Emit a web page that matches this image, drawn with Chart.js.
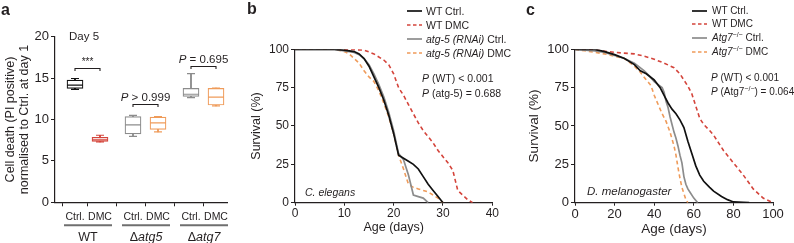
<!DOCTYPE html>
<html><head><meta charset="utf-8">
<script src="https://cdn.jsdelivr.net/npm/chart.js@4.4.0/dist/chart.umd.min.js"></script>
<style>
html,body{margin:0;padding:0;background:#fff;}
body{width:794px;height:243px;position:relative;overflow:hidden;font-family:"Liberation Sans",Arial,sans-serif;color:#231f20;}
canvas{position:absolute;top:0;}
.t{position:absolute;white-space:nowrap;font-size:10.5px;line-height:14px;}
.tc{font-size:10px;}
.lab{position:absolute;font-weight:bold;font-size:16px;line-height:16px;}
.sup{font-size:7px;position:relative;top:-4px;}
svg{position:absolute;overflow:visible;}
</style></head><body>
<canvas id="ca" width="260" height="243" style="left:0"></canvas>
<canvas id="cb" width="280" height="243" style="left:245px"></canvas>
<canvas id="cc" width="272" height="243" style="left:522px"></canvas>

<div class="lab" style="left:1px;top:2px">a</div>
<div class="lab" style="left:247px;top:1px">b</div>
<div class="lab" style="left:526px;top:2px">c</div>

<svg width="794" height="243" style="left:0;top:0">
  <line x1="407" y1="11" x2="422" y2="11" stroke="#111" stroke-width="1.7"/>
  <line x1="407" y1="25" x2="422" y2="25" stroke="#d4443b" stroke-width="1.5" stroke-dasharray="3.5,2.5"/>
  <line x1="407" y1="39" x2="422" y2="39" stroke="#8c8c8c" stroke-width="1.7"/>
  <line x1="407" y1="53" x2="422" y2="53" stroke="#ef9b5a" stroke-width="1.5" stroke-dasharray="3.5,2.5"/>
  <line x1="692" y1="11" x2="707" y2="11" stroke="#111" stroke-width="1.7"/>
  <line x1="692" y1="24" x2="707" y2="24" stroke="#d4443b" stroke-width="1.5" stroke-dasharray="3.5,2.5"/>
  <line x1="692" y1="38" x2="707" y2="38" stroke="#8c8c8c" stroke-width="1.7"/>
  <line x1="692" y1="52" x2="707" y2="52" stroke="#ef9b5a" stroke-width="1.5" stroke-dasharray="3.5,2.5"/>
</svg>

<div class="t" style="left:426px;top:4px">WT Ctrl.</div>
<div class="t" style="left:426px;top:18px">WT DMC</div>
<div class="t" style="left:426px;top:32px"><i>atg-5 (RNAi)</i> Ctrl.</div>
<div class="t" style="left:426px;top:46px"><i>atg-5 (RNAi)</i> DMC</div>
<div class="t" style="left:422px;top:71px"><i>P</i> (WT) &lt; 0.001</div>
<div class="t" style="left:422px;top:86px"><i>P</i> (atg-5) = 0.688</div>
<div class="t" style="left:305px;top:185px"><i>C. elegans</i></div>

<div class="t tc" style="left:712px;top:4px">WT Ctrl.</div>
<div class="t tc" style="left:712px;top:17px">WT DMC</div>
<div class="t tc" style="left:712px;top:31px"><i>Atg7</i><span class="sup">−/−</span> Ctrl.</div>
<div class="t tc" style="left:712px;top:45px"><i>Atg7</i><span class="sup">−/−</span> DMC</div>
<div class="t tc" style="left:711px;top:71px"><i>P</i> (WT) &lt; 0.001</div>
<div class="t tc" style="left:711px;top:85px"><i>P</i> (Atg7<span class="sup">−/−</span>) = 0.064</div>
<div class="t" style="left:587px;top:184px;font-size:11.5px"><i>D. melanogaster</i></div>

<script>
// ---------- Panel a data ----------
const groupNames = ['WT', 'atg5', 'atg7'];
const boxLabels = ['Ctrl.', 'DMC'];
const boxMin = [13.65, 7.3, 7.95, 8.5, 12.65, 11.65];
const boxQ1  = [13.75, 7.35, 8.25, 8.8, 12.8, 11.75];
const boxMed = [14.15, 7.55, 9.35, 9.6, 13.05, 12.7];
const boxQ3  = [14.75, 7.85, 10.35, 10.3, 13.75, 13.75];
const boxMax = [14.95, 8.1, 10.5, 10.35, 15.55, 13.8];
const bracketLabels = ['***', 'P > 0.999', 'P = 0.695'];
const bracketLevels = [16.2, 11.9, 16.5];

// ---------- Panel b data (C. elegans) [day, survival %] ----------
const ceWtCtrl = [[0,100],[8,100],[10,99.5],[12,98.5],[13,97],[14,94],[15,89],[16,82],[17,75],[18,67],[19,57],[20,45],[21,31],[22,29],[23,27],[24,25],[25,22],[26,17],[27,12],[28,8],[29,4],[30,0]];
const ceWtDmc = [[0,100],[10,100],[14,99.5],[16,97],[18,93],[19,90],[20,84],[21,75],[22,70],[23,64],[24,58],[25,52],[26,47],[27,43],[28,39],[29,34],[30,30],[31,26],[32,21],[33,8],[34,5],[35,2],[36,0]];
const ceAtgCtrl = [[0,100],[8,100],[10,99],[12,98],[13,96.5],[14,94],[15,90],[16,84],[17,77],[18,69],[19,59],[20,47],[21,32],[22,28],[23,18],[24,5],[25,4],[26,3],[27,0]];
const ceAtgDmc = [[0,100],[8,100],[10,98.5],[11,97],[12,94],[13,91],[14,86],[15,82],[16,79],[17,73],[18,65],[19,56],[20,45],[21,31],[22,22],[23,12],[24,10],[25,9],[26,8],[27,7],[28,5],[29,3],[30,0]];

// ---------- Panel c data (D. melanogaster) [day, survival %] ----------
const dmWtCtrl = [[0,100],[10,100],[15,98.5],[20,96.5],[25,94],[30,90],[33,86],[36,84],[40,80],[43,75],[45,70],[47,65],[49,61],[51,58],[53,54],[55,49],[57,40],[59,32],[61,24],[63,18],[65,14],[68,10],[70,7.5],[74,4],[77,2],[80,0.5],[85,0.2],[88,0]];
const dmWtDmc = [[0,100],[10,99.5],[20,98],[30,97],[35,95.5],[40,93.5],[45,91],[50,88],[53,84],[55,80],[57,76],[59,71],[61,63],[63,55],[65,51],[68,47],[70,44],[75,34],[80,26],[85,18],[90,9],[95,3],[100,0]];
const dmAtgCtrl = [[0,100],[10,99],[15,98],[20,96],[25,94],[30,91],[35,86],[38,82],[40,79],[42,77],[44,75],[45,72],[46,66],[47,62],[48,56],[49,51],[50,46],[51,42],[52,37],[53,31],[54,26],[55,17],[56,12],[57,9],[58,7],[60,3],[62,0]];
const dmAtgDmc = [[0,100],[5,99],[10,98],[15,97],[20,95.5],[25,94],[30,89],[33,85],[36,80],[38,77],[39,74],[40,70],[41,67],[42,64],[44,58],[46,53],[48,46],[50,37],[51,31],[52,23],[53,16],[54,10],[55,6],[56,2],[57,0]];

const survTicks = [0, 25, 50, 75, 100];
const cellTicks = [0, 5, 10, 15, 20];

// ---------- styling ----------
const FONT = '"Liberation Sans", Arial, sans-serif';
const INK = '#231f20';
const C_BLACK = '#111111', C_RED = '#d4443b', C_GRAY = '#8c8c8c', C_ORANGE = '#ef9b5a';
const boxColors = [C_BLACK, C_RED, C_GRAY, C_ORANGE, C_GRAY, C_ORANGE];
Chart.defaults.font.family = FONT;
Chart.defaults.color = INK;

// layout positions on the panel-a x scale (group index, member index)
const xPos = boxMed.map((_, i) => 0.8 + Math.floor(i / 2) * 2.32 + (i % 2));

function fixedSize(w, h) {
  return s => { if (w != null) s.width = w; if (h != null) s.height = h; };
}

const annotA = {
  id: 'annotA',
  afterDraw(chart) {
    const ctx = chart.ctx, xs = chart.scales.x, ys = chart.scales.y, ca = chart.chartArea;
    ctx.save();
    ctx.fillStyle = INK; ctx.strokeStyle = INK;
    ctx.font = '11.5px ' + FONT; ctx.textBaseline = 'middle'; ctx.textAlign = 'left';
    ctx.fillText('Day 5', ca.left + 14, ca.top);
    bracketLabels.forEach((lab, k) => {
      const x1 = xs.getPixelForValue(xPos[2 * k]), x2 = xs.getPixelForValue(xPos[2 * k + 1]);
      const y = Math.round(ys.getPixelForValue(bracketLevels[k])) + 0.5;
      ctx.lineWidth = 1.1;
      ctx.beginPath();
      ctx.moveTo(x1, y + 2.5); ctx.lineTo(x1, y); ctx.lineTo(x2, y); ctx.lineTo(x2, y + 2.5);
      ctx.stroke();
      const cx = (x1 + x2) / 2, ty = y - 7;
      if (lab.startsWith('P')) {
        const rest = lab.slice(1);
        ctx.font = 'italic 11.5px ' + FONT; const wP = ctx.measureText('P').width;
        ctx.font = '11.5px ' + FONT; const wR = ctx.measureText(rest).width;
        const sx = cx - (wP + wR) / 2;
        ctx.textAlign = 'left';
        ctx.font = 'italic 11.5px ' + FONT; ctx.fillText('P', sx, ty);
        ctx.font = '11.5px ' + FONT; ctx.fillText(rest, sx + wP, ty);
      } else {
        ctx.font = '10px ' + FONT; ctx.textAlign = 'center';
        ctx.fillText(lab, cx, ty + 1);
      }
    });
    groupNames.forEach((g, k) => {
      const x1 = xs.getPixelForValue(xPos[2 * k]) - 11, x2 = xs.getPixelForValue(xPos[2 * k + 1]) + 12;
      const y = ca.bottom + 23;
      ctx.strokeStyle = '#6f6f6f'; ctx.lineWidth = 2;
      ctx.beginPath(); ctx.moveTo(x1, y); ctx.lineTo(x2, y); ctx.stroke();
      const cx = (x1 + x2) / 2, ty = ca.bottom + 35.5;
      ctx.fillStyle = INK; ctx.textAlign = 'left';
      if (k === 0) {
        ctx.font = '12.5px ' + FONT; const w = ctx.measureText(g).width;
        ctx.fillText(g, cx - w / 2, ty);
      } else {
        ctx.font = '12.5px ' + FONT; const wd = ctx.measureText('Δ').width;
        ctx.font = 'italic 12.5px ' + FONT; const wg = ctx.measureText(g).width;
        const sx = cx - (wd + wg) / 2;
        ctx.font = '12.5px ' + FONT; ctx.fillText('Δ', sx, ty);
        ctx.font = 'italic 12.5px ' + FONT; ctx.fillText(g, sx + wd, ty);
      }
    });
    ctx.restore();
  }
};

const medData = xPos.map((x, i) => ({ x, y: boxMed[i] }));
const capData = [], capColors = [];
xPos.forEach((x, i) => { capData.push({ x, y: boxMin[i] }, { x, y: boxMax[i] }); capColors.push(boxColors[i], boxColors[i]); });

new Chart(document.getElementById('ca'), {
  type: 'bar',
  data: {
    datasets: [
      { type: 'scatter', data: medData, pointStyle: 'line', pointRadius: 8, pointBorderColor: boxColors, pointBorderWidth: 1.2, order: 0 },
      { type: 'scatter', data: capData, pointStyle: 'line', pointRadius: 4, pointBorderColor: capColors, pointBorderWidth: 1.2, order: 0 },
      { type: 'bar', data: xPos.map((x, i) => ({ x, y: [boxQ1[i], boxQ3[i]] })), backgroundColor: '#ffffff', borderColor: boxColors, borderWidth: 1.2, borderSkipped: false, barThickness: 16, grouped: false, order: 1 },
      { type: 'bar', data: xPos.map((x, i) => ({ x, y: [boxMin[i], boxMax[i]] })), backgroundColor: boxColors, borderWidth: 0, barThickness: 1.2, grouped: false, order: 2 }
    ]
  },
  options: {
    responsive: false, animation: false,
    layout: { padding: { left: 0, right: 33, top: 36.7, bottom: 0 } },
    plugins: { legend: { display: false }, tooltip: { enabled: false } },
    scales: {
      x: {
        type: 'linear', min: 0, max: 6.88, offset: false,
        afterFit: fixedSize(null, 40.7),
        afterBuildTicks: s => { s.ticks = xPos.map(v => ({ value: v })); },
        ticks: { callback: (v, i) => boxLabels[i % 2], font: { size: 10.5 }, padding: 5, maxRotation: 0, autoSkip: false },
        grid: { drawOnChartArea: false, drawTicks: true, tickLength: 4, color: INK, tickWidth: 1 },
        border: { display: true, color: INK, width: 1.2 }
      },
      y: {
        min: 0, max: 20,
        afterFit: fixedSize(55, null),
        afterBuildTicks: s => { s.ticks = cellTicks.map(v => ({ value: v })); },
        ticks: { font: { size: 13 }, padding: 2 },
        grid: { drawOnChartArea: false, drawTicks: true, tickLength: 4, color: INK },
        border: { display: true, color: INK, width: 1.2 },
        title: { display: true, text: ['Cell death (PI positive)', 'normalised to Ctrl. at day 1'], font: { size: 12.5, lineHeight: 1.08 }, padding: { top: 4, bottom: 0 } }
      }
    }
  },
  plugins: [annotA]
});

function survDataset(pairs, color, dashed, order) {
  return {
    data: pairs.map(p => ({ x: p[0], y: p[1] })),
    borderColor: color, borderWidth: dashed ? 1.6 : 1.7,
    borderDash: dashed ? [4, 3] : [], pointRadius: 0, tension: 0, fill: false, order
  };
}

function survOptions(cfg) {
  return {
    responsive: false, animation: false,
    layout: { padding: { left: 0, right: cfg.padRight, top: 49.3, bottom: 0 } },
    plugins: { legend: { display: false }, tooltip: { enabled: false } },
    scales: {
      x: {
        type: 'linear', min: 0, max: cfg.xMax,
        afterFit: fixedSize(null, 40.3),
        ticks: { stepSize: cfg.xStep, font: { size: cfg.tickSize }, padding: 1, maxRotation: 0 },
        grid: { drawOnChartArea: false, drawTicks: true, tickLength: 3, color: INK },
        border: { display: true, color: INK, width: 1.2 },
        title: { display: true, text: 'Age (days)', font: { size: cfg.titleSize }, padding: { top: 0, bottom: cfg.xTitlePad } }
      },
      y: {
        min: 0, max: 100,
        afterFit: fixedSize(cfg.yWidth, null),
        afterBuildTicks: s => { s.ticks = survTicks.map(v => ({ value: v })); },
        ticks: { font: { size: cfg.tickSize }, padding: 2 },
        grid: { drawOnChartArea: false, drawTicks: true, tickLength: 4, color: INK },
        border: { display: true, color: INK, width: 1.2 },
        title: { display: true, text: 'Survival (%)', font: { size: cfg.titleSize }, padding: { top: cfg.yTitlePad, bottom: 0 } }
      }
    }
  };
}

new Chart(document.getElementById('cb'), {
  type: 'line',
  data: { datasets: [
    survDataset(ceWtCtrl, C_BLACK, false, 0),
    survDataset(ceAtgCtrl, C_GRAY, false, 1),
    survDataset(ceAtgDmc, C_ORANGE, true, 2),
    survDataset(ceWtDmc, C_RED, true, 3)
  ] },
  options: survOptions({ padRight: 32.7, xMax: 40, xStep: 10, tickSize: 12, titleSize: 12.5, xTitlePad: 7.5, yWidth: 50, yTitlePad: 3.8 })
});

new Chart(document.getElementById('cc'), {
  type: 'line',
  data: { datasets: [
    survDataset(dmWtCtrl, C_BLACK, false, 0),
    survDataset(dmAtgCtrl, C_GRAY, false, 1),
    survDataset(dmAtgDmc, C_ORANGE, true, 2),
    survDataset(dmWtDmc, C_RED, true, 3)
  ] },
  options: survOptions({ padRight: 21, xMax: 100, xStep: 20, tickSize: 13, titleSize: 13.5, xTitlePad: 5.2, yWidth: 53, yTitlePad: 3.8 })
});
</script>
</body></html>
